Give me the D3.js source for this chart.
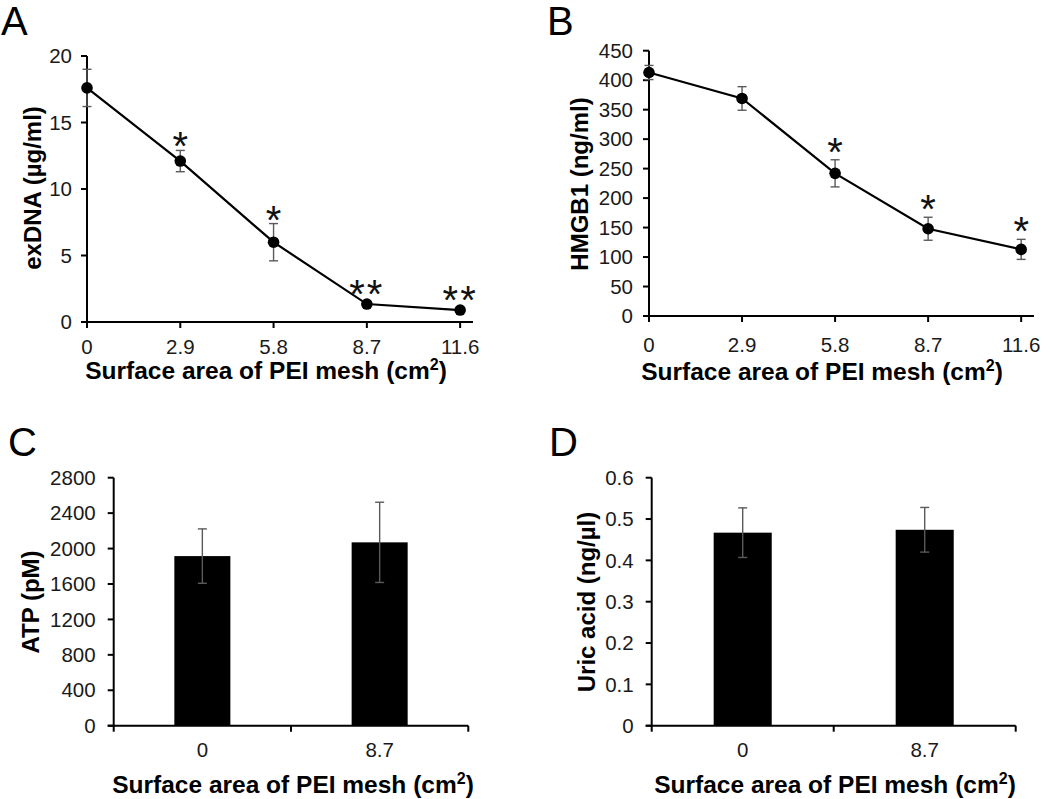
<!DOCTYPE html>
<html><head><meta charset="utf-8">
<script src="https://cdn.jsdelivr.net/npm/d3@7/dist/d3.min.js"></script>
<style>
html,body{margin:0;padding:0;background:#fff;}
svg{display:block;}
text{font-family:"Liberation Sans",Arial,sans-serif;}
</style></head>
<body>
<svg id="chart" width="1050" height="799"></svg>
<script>
// ---- data ----
const areaCats = ["0", "2.9", "5.8", "8.7", "11.6"];
const areaVals = [0, 2.9, 5.8, 8.7, 11.6];

const exdnaMean = [17.6, 12.1, 6.0, 1.35, 0.9];
const exdnaErr  = [1.4, 0.8, 1.4, 0.2, 0.15];
const exdnaSig  = ["", "*", "*", "**", "**"];
const exdnaTicks = [0, 5, 10, 15, 20];

const hmgbMean = [413, 369, 242, 148, 113];
const hmgbErr  = [12, 20, 23, 19.5, 17];
const hmgbSig  = ["", "", "*", "*", "*"];
const hmgbTicks = [0, 50, 100, 150, 200, 250, 300, 350, 400, 450];

const barCats = ["0", "8.7"];
const atpMean = [1915, 2070];
const atpErr  = [307, 453];
const atpTicks = [0, 400, 800, 1200, 1600, 2000, 2400, 2800];

const uricMean = [0.467, 0.474];
const uricErr  = [0.06, 0.054];
const uricTicks = [0, 0.1, 0.2, 0.3, 0.4, 0.5, 0.6];

const xTitle = "Surface area of PEI mesh (cm";
const panelLetters = ["A", "B", "C", "D"];
const yTitles = ["exDNA (\u00b5g/ml)", "HMGB1 (ng/ml)", "ATP (pM)", "Uric acid (ng/\u00b5l)"];

// ---- drawing ----
const svg = d3.select("#chart");
const TXT = "#1a1a1a";
const ERR = "#5a5a5a";
const TICKFS = 20.5;

function letter(t, x, y) {
  svg.append("text").attr("x", x).attr("y", y).attr("font-size", 40)
    .attr("fill", "#000").text(t);
}
function yTitle(t, x, y) {
  svg.append("text").attr("transform", `translate(${x},${y}) rotate(-90)`)
    .attr("text-anchor", "middle").attr("font-size", 24).attr("font-weight", "bold")
    .attr("fill", "#000").text(t);
}
function xTitleText(cx, y) {
  const t = svg.append("text").attr("x", cx).attr("y", y).attr("text-anchor", "middle")
    .attr("font-size", 24.5).attr("font-weight", "bold").attr("fill", "#000");
  t.append("tspan").text(xTitle);
  t.append("tspan").attr("font-size", 16).attr("dy", -9).text("2");
  t.append("tspan").attr("dy", 9).text(")");
}
function yAxis(scale, x, ticks, fmt, labelGap) {
  const g = svg.append("g");
  const [r0, r1] = scale.range();
  g.append("line").attr("x1", x).attr("x2", x).attr("y1", r0 + 1).attr("y2", r1)
    .attr("stroke", "#000").attr("stroke-width", 2);
  ticks.forEach(v => {
    const y = scale(v);
    g.append("line").attr("x1", x - 6).attr("x2", x).attr("y1", y).attr("y2", y)
      .attr("stroke", "#000").attr("stroke-width", 2);
    g.append("text").attr("x", x - labelGap).attr("y", y).attr("dy", "0.35em")
      .attr("text-anchor", "end").attr("font-size", TICKFS).attr("fill", TXT).text(fmt(v));
  });
}

function linePanel(o) {
  const x = d3.scaleLinear().domain([0, 12]).range([o.x0, o.x1]);
  const y = d3.scaleLinear().domain([0, o.ymax]).range([o.y0, o.y1]);
  yAxis(y, o.x0, o.ticks, d3.format("d"), o.labelGap);
  // x axis
  svg.append("line").attr("x1", o.x0 - 6).attr("x2", o.x1).attr("y1", o.y0).attr("y2", o.y0)
    .attr("stroke", "#000").attr("stroke-width", 2);
  areaVals.forEach((v, i) => {
    const px = x(v);
    svg.append("line").attr("x1", px).attr("x2", px).attr("y1", o.y0).attr("y2", o.y0 + 6)
      .attr("stroke", "#000").attr("stroke-width", 2);
    svg.append("text").attr("x", px).attr("y", o.tickY).attr("text-anchor", "middle")
      .attr("font-size", TICKFS).attr("fill", TXT).text(areaCats[i]);
  });
  const pts = areaVals.map((v, i) => [x(v), y(o.mean[i])]);
  // error bars
  pts.forEach((p, i) => {
    const yt = y(o.mean[i] + o.err[i]), yb = y(o.mean[i] - o.err[i]);
    const g = svg.append("g").attr("stroke", ERR).attr("stroke-width", 1.4);
    g.append("line").attr("x1", p[0]).attr("x2", p[0]).attr("y1", yt).attr("y2", yb);
    g.append("line").attr("x1", p[0] - 4.5).attr("x2", p[0] + 4.5).attr("y1", yt).attr("y2", yt);
    g.append("line").attr("x1", p[0] - 4.5).attr("x2", p[0] + 4.5).attr("y1", yb).attr("y2", yb);
  });
  svg.append("path").attr("d", d3.line()(pts)).attr("fill", "none")
    .attr("stroke", "#000").attr("stroke-width", 2.2);
  svg.selectAll(null).data(pts).enter().append("circle")
    .attr("cx", d => d[0]).attr("cy", d => d[1]).attr("r", 5.8).attr("fill", "#000");
  // significance marks
  pts.forEach((p, i) => {
    if (!o.sig[i]) return;
    const top = Math.min(y(o.mean[i] + o.err[i]), p[1] - 6);
    svg.append("text").attr("x", p[0]).attr("y", top - o.sigOff + 24)
      .attr("text-anchor", "middle").attr("font-size", 40).attr("letter-spacing", o.sig[i].length > 1 ? 2 : 0)
      .attr("fill", "#111").text(o.sig[i]);
  });
  xTitleText(o.titleX, o.titleY);
}

function barPanel(o) {
  const x = d3.scaleBand().domain(barCats).range([o.x0, o.x1]).paddingInner(o.pad).paddingOuter(o.pad / 2);
  const y = d3.scaleLinear().domain([0, o.ymax]).range([o.y0, o.y1]);
  svg.selectAll(null).data(o.mean).enter().append("rect")
    .attr("x", (d, i) => x(barCats[i])).attr("width", x.bandwidth())
    .attr("y", d => y(d)).attr("height", d => o.y0 - y(d)).attr("fill", "#000");
  yAxis(y, o.x0, o.ticks, o.fmt, o.labelGap);
  svg.append("line").attr("x1", o.x0 - 6).attr("x2", o.x1).attr("y1", o.y0).attr("y2", o.y0)
    .attr("stroke", "#000").attr("stroke-width", 2);
  const step = x.step();
  [0, 1, 2].forEach(k => {
    const px = o.x0 + k * step;
    svg.append("line").attr("x1", px).attr("x2", px).attr("y1", o.y0).attr("y2", o.y0 + 6)
      .attr("stroke", "#000").attr("stroke-width", 2);
  });
  barCats.forEach((c, i) => {
    const cx = x(c) + x.bandwidth() / 2;
    svg.append("text").attr("x", cx).attr("y", o.tickY).attr("text-anchor", "middle")
      .attr("font-size", TICKFS).attr("fill", TXT).text(c);
    const yt = y(o.mean[i] + o.err[i]), yb = y(o.mean[i] - o.err[i]);
    const g = svg.append("g").attr("stroke", ERR).attr("stroke-width", 1.4);
    g.append("line").attr("x1", cx).attr("x2", cx).attr("y1", yt).attr("y2", yb);
    g.append("line").attr("x1", cx - 4.5).attr("x2", cx + 4.5).attr("y1", yt).attr("y2", yt);
    g.append("line").attr("x1", cx - 4.5).attr("x2", cx + 4.5).attr("y1", yb).attr("y2", yb);
  });
  xTitleText(o.titleX, o.titleY);
}

// Panel A
letter(panelLetters[0], 1, 35);
yTitle(yTitles[0], 41, 188);
linePanel({x0: 87, x1: 473, y0: 322, y1: 56, ymax: 20, ticks: exdnaTicks, labelGap: 15,
  mean: exdnaMean, err: exdnaErr, sig: exdnaSig, sigOff: 14, tickY: 354, titleX: 266, titleY: 379});

// Panel B
letter(panelLetters[1], 547, 35);
yTitle(yTitles[1], 588, 184);
linePanel({x0: 649, x1: 1034, y0: 316, y1: 50.7, ymax: 450, ticks: hmgbTicks, labelGap: 16,
  mean: hmgbMean, err: hmgbErr, sig: hmgbSig, sigOff: 18, tickY: 352, titleX: 822, titleY: 380});

// Panel C
letter(panelLetters[2], 8, 456);
yTitle(yTitles[2], 39, 602);
barPanel({x0: 113.7, x1: 468.3, y0: 725.7, y1: 477.7, ymax: 2800, ticks: atpTicks, pad: 0.684,
  fmt: d3.format("d"), labelGap: 18, mean: atpMean, err: atpErr, tickY: 757, titleX: 293, titleY: 793});

// Panel D
letter(panelLetters[3], 549, 456);
yTitle(yTitles[3], 595, 602);
barPanel({x0: 651.7, x1: 1015.7, y0: 725.7, y1: 477.7, ymax: 0.6, ticks: uricTicks, pad: 0.681,
  fmt: d => d === 0 ? "0" : d3.format(".1f")(d), labelGap: 18, mean: uricMean, err: uricErr,
  tickY: 757, titleX: 835, titleY: 793});
</script>
</body></html>
